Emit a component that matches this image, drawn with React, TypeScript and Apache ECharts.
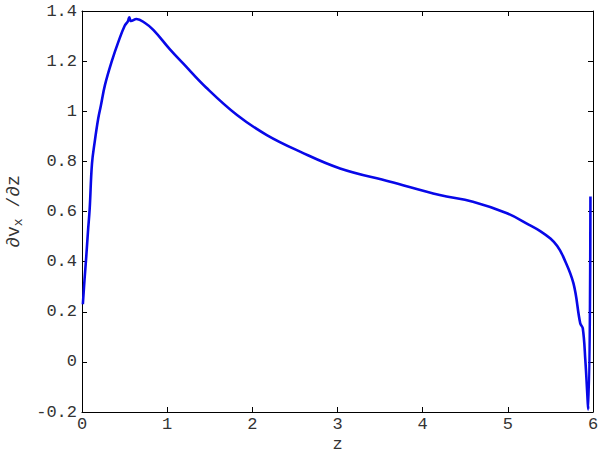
import React, { useEffect, useRef } from "react";
import * as echarts from "echarts";

const zValues: number[] = [
  0.01, 0.03, 0.05, 0.07, 0.09, 0.117, 0.15, 0.19, 0.22, 0.27, 0.35, 0.43, 0.5, 0.54,
  0.555, 0.575, 0.64, 0.74, 0.84, 1.03, 1.19, 1.46, 1.82, 2.17, 2.56, 3.03, 3.62,
  4.2, 4.59, 4.99, 5.25, 5.38, 5.5, 5.58, 5.65, 5.77, 5.85, 5.88, 5.91, 5.945, 5.97,
];
const dvValues: number[] = [
  0.23, 0.33, 0.42, 0.52, 0.61, 0.79, 0.88, 0.97, 1.02, 1.105, 1.2, 1.28, 1.34, 1.36,
  1.375, 1.36, 1.368, 1.352, 1.324, 1.248, 1.19, 1.094, 0.985, 0.905, 0.839, 0.772,
  0.719, 0.666, 0.639, 0.593, 0.547, 0.522, 0.492, 0.462, 0.42, 0.314, 0.154, 0.134,
  0.007, -0.19, 0.66,
];

const xTicks = { min: 0, max: 6, interval: 1 };
const yTicks = { min: -0.2, max: 1.4, interval: 0.2 };

const FONT = "Liberation Mono";

export default function App() {
  const ref = useRef<HTMLDivElement>(null);
  useEffect(() => {
    if (!ref.current) return;
    const chart = echarts.init(ref.current, undefined, { renderer: "svg" });
    const data = zValues.map((z, i) => [z, dvValues[i]]);
    const labelStyle = { color: "#333", fontFamily: FONT, fontSize: 17, lineHeight: 17 };
    const lineStyle = { color: "#000", width: 1 };
    chart.setOption({
      animation: false,
      backgroundColor: "#fff",
      grid: {
        left: 82,
        right: 7,
        top: 11,
        bottom: 39,
        containLabel: false,
        outerBoundsMode: "none",
      },
      xAxis: [
        {
          type: "value",
          min: xTicks.min,
          max: xTicks.max,
          interval: xTicks.interval,
          position: "bottom",
          name: "z",
          nameLocation: "middle",
          nameGap: 25,
          nameMoveOverlap: false,
          nameTextStyle: { color: "#333", fontFamily: FONT, fontSize: 17, lineHeight: 14 },
          axisLine: { show: true, onZero: false, lineStyle },
          axisTick: { show: true, inside: true, length: 5, lineStyle },
          axisLabel: { ...labelStyle, margin: 4 },
          splitLine: { show: false },
        },
        {
          type: "value",
          min: xTicks.min,
          max: xTicks.max,
          interval: xTicks.interval,
          position: "top",
          axisLine: { show: true, onZero: false, lineStyle },
          axisTick: { show: true, inside: true, length: 5, lineStyle },
          axisLabel: { show: false },
          splitLine: { show: false },
        },
      ],
      yAxis: [
        {
          type: "value",
          min: yTicks.min,
          max: yTicks.max,
          interval: yTicks.interval,
          position: "left",
          name: "{a|∂v}{b|x}{a| /∂z}",
          nameLocation: "middle",
          nameGap: 56,
          nameRotate: 90,
          nameTextStyle: {
            color: "#333",
            fontFamily: FONT,
            rich: {
              a: { fontFamily: FONT, fontSize: 18, color: "#333", lineHeight: 22, verticalAlign: "middle" },
              b: { fontFamily: FONT, fontSize: 13, color: "#333", lineHeight: 22, verticalAlign: "bottom", padding: [10, 0, 0, 0] },
            },
          },
          axisLine: { show: true, onZero: false, lineStyle },
          axisTick: { show: true, inside: true, length: 5, lineStyle },
          axisLabel: { ...labelStyle, margin: 5 },
          splitLine: { show: false },
        },
        {
          type: "value",
          min: yTicks.min,
          max: yTicks.max,
          interval: yTicks.interval,
          position: "right",
          axisLine: { show: true, onZero: false, lineStyle },
          axisTick: { show: true, inside: true, length: 5, lineStyle },
          axisLabel: { show: false },
          splitLine: { show: false },
        },
      ],
      series: [
        {
          type: "line",
          data,
          xAxisIndex: 0,
          yAxisIndex: 0,
          showSymbol: false,
          symbol: "none",
          smooth: 0.4,
          lineStyle: { color: "#0808e8", width: 2.6 },
        },
      ],
    });
    return () => chart.dispose();
  }, []);
  return (
    <div
      ref={ref}
      style={{ position: "fixed", left: 0, top: 0, width: 600, height: 451 }}
    />
  );
}
